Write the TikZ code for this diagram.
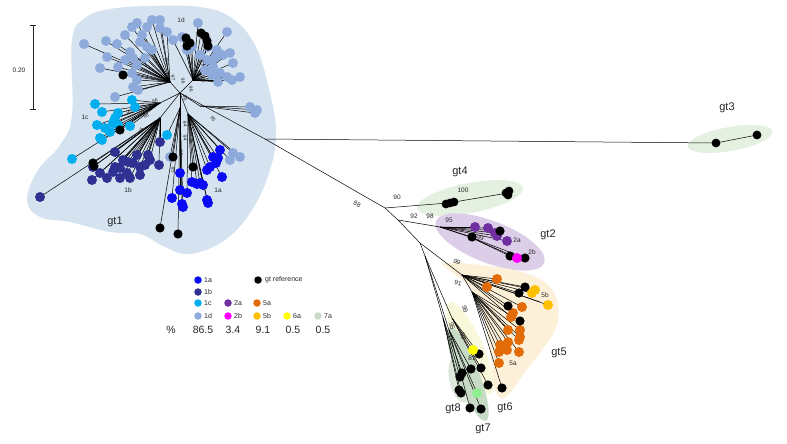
\documentclass[tikz,border=0pt]{standalone}
\usepackage{fontspec}
\setmainfont{Liberation Sans}
\usetikzlibrary{calc}
\definecolor{c1a}{HTML}{0A0AF5}
\definecolor{c1b}{HTML}{2E3192}
\definecolor{c1c}{HTML}{00AEEF}
\definecolor{c1d}{HTML}{8EAADB}
\definecolor{c2a}{HTML}{7030A0}
\definecolor{c2b}{HTML}{FF00FF}
\definecolor{c5a}{HTML}{E36C09}
\definecolor{c5b}{HTML}{FFC000}
\definecolor{c6a}{HTML}{FFFF00}
\definecolor{c7a}{HTML}{C8DCC8}
\definecolor{c7t}{HTML}{90EE90}
\definecolor{bgone}{HTML}{D5E3F1}
\definecolor{bgtwo}{HTML}{DCCDE8}
\definecolor{bggreen}{HTML}{E5F1E0}
\definecolor{bgfive}{HTML}{FDF0D9}
\definecolor{bgsix}{HTML}{FAF8DA}
\definecolor{bgseven}{HTML}{C6DAC6}
\definecolor{bgeight}{HTML}{DCE9D9}
\definecolor{txt}{HTML}{262626}
\tikzset{
  br/.style={line width=0.5pt, black},
  gtlab/.style={font=\fontsize{11}{13}\selectfont, text=txt, inner sep=0pt},
  bs/.style={font=\fontsize{5}{6}\selectfont, text=txt, inner sep=0pt},
  bsl/.style={font=\fontsize{6.5}{7}\selectfont, text=txt, inner sep=0pt},
  leg/.style={font=\fontsize{7}{8}\selectfont, text=txt, anchor=west, inner sep=0pt},
  legdot/.style={circle, inner sep=0pt, minimum size=7.5pt},
  pct/.style={font=\fontsize{10.5}{12}\selectfont, text=txt, inner sep=0pt},
}
\newcommand\mkgrp[2]{\foreach \x/\y/\h [count=\i] in #1 {\coordinate (#2\i) at (\x,\y); \draw[br] (\h) -- (#2\i);}}
\newcommand\dotgrp[4]{\foreach \x/\y/\h [count=\i] in #1 {\fill[#3] (#2\i) circle[radius=#4];}}
% gt1 groups: x/y/hub
\def\listD{152/20/H1d,137/23/H1d,132/27/H1d,147/27/H1d,160/28/H1d,167/32/H1d,198/23/H1dr,227/32/H1dr,84/44/H1d,106/41/H1d,117/44/H1d,107/57/H1d,100/68/H1d,118/67/H1d,130/52/H1d,133/58/H1d,137/65/H1d,132/73/H1d,137/80/H1d,133/87/H1d,138/90/H1d,115/97/H1d,147/47/H1d,152/50/H1d,140/42/H1d,145/58/H1d,173/40/H1dr,182/37/H1dr,187/50/H1dr,192/47/H1dr,208/47/H1dr,217/50/H1dr,223/55/H1dr,230/53/H1dr,233/63/H1dr,213/67/H1dr,220/73/H1dr,227/77/H1dr,240/77/H1dr,232/80/H1dr,200/55/H1dr,207/60/H1dr,212/75/H1dr,218/82/H1dr,205/70/H1dr,250/107/Hr,257/110/Hr,255/113/Hr,233/153/H1a,240/157/H1a,230/160/H1a,170/157/H1x,125/35/H1d,160/20/H1d,142/35/H1d,125/60/H1d,215/58/H1dr}
\def\listC{95/104/H1c,102/112/H1c,97/125/H1c,105/128/H1c,113/123/H1c,118/113/H1c,115/118/H1c,132/100/H1c,135/107/H1c,130/126/H1c,100/138/H1c,102/140/H1c,110/132/H1c,72/159/H1c,167/135/H1x,118/125/H1c}
\def\listB{40/197/H1b,93/167/H1b,100/173/H1b,92/180/H1b,107/178/H1b,115/152/H1b,115/167/H1b,120/168/H1b,127/173/H1b,133/163/H1b,140/167/H1b,148/155/H1b,140/175/H1b,150/160/H1b,160/142/H1b,159/165/H1b,130/178/H1b,120/178/H1b,113/172/H1b,128/162/H1b,137/155/H1b,123/160/H1b,145/165/H1b}
\def\listA{220/150/H1a,213/157/H1a,210/167/H1a,207/170/H1a,222/177/H1a,180/173/H1x,192/182/H1a,197/184/H1a,203/185/H1a,180/190/H1x,172/198/H1x,187/193/H1a,182/204/H1x,183/207/H1x,207/200/H1a,208/203/H1a,218/158/H1a,200/183/H1a,216/163/H1a}
\def\listK{186/38/H1dr,190/43/H1dr,187/46/H1dr,201/33/H1dr,205/36/H1dr,207/41/H1dr,208/46/H1dr,123/75/H1d,120/130/H1c,173/157/H1x,193/167/H1a,160/228/H1x,178/234/H1x,93/163/H1b,94/166/H1b}
\def\listTwoA{475/227/P4,488/228/P4,495/233/P4,497/236/P4,507/241/P4}
\def\listTwoK{500/231/P4,472/237/P4,510/256/P4b,525/258/P4b}
\def\listFiveA{497/279/P6,487/287/P6,522/307/P6,513/313/P6,511/317/P6,508/330/P6b,520/330/P6b,520/337/P6b,519/340/P6b,500/345/P6b,508/342/P6b,507/350/P6b,519/352/P6b,499/352/P6b,499/363/P6b}
\def\listFiveB{535/290/P6,532/293/P6,548/305/P6}
\def\listFiveK{525/287/P6,519/293/P6,508/306/P6,520/321/P6b,502/388/P6b}
\def\listLowK{479/354/Q6,471/369/Q7,481/368/Q6,462/373/Q8,460/377/Q8,459/390/Q8,461/393/Q8,488/385/Q6,470/408/Q7,481/409/Q7}
\begin{document}
\begin{tikzpicture}[x=1pt,y=-1pt]
\useasboundingbox (0,0) rectangle (787,444);
% ---------- background blobs
\fill[bgone] plot[smooth cycle, tension=0.65] coordinates {(72,40) (85,18) (110,9) (150,6) (200,7) (232,18) (255,45) (268,85) (276,130) (270,170) (252,210) (225,240) (190,254) (165,247) (140,234) (110,232) (70,222) (40,217) (27,200) (38,170) (60,145) (72,115)};
\fill[bggreen, rotate around={10:(730,139)}] (730,139) ellipse[x radius=43pt, y radius=12pt];
\fill[bggreen, rotate around={11:(470,198)}] (470,198) ellipse[x radius=54pt, y radius=15pt];
\fill[bgtwo, rotate around={-21:(490,242)}] (490,242) ellipse[x radius=58pt, y radius=21pt];
\fill[bgfive] plot[smooth cycle, tension=0.6] coordinates {(443,263) (480,265) (522,272) (548,285) (558,305) (556,328) (542,350) (525,372) (510,393) (500,398) (494,385) (490,350) (484,318) (470,288) (452,272)};
\fill[bgsix, rotate around={-66:(470,348)}] (470,348) ellipse[x radius=50pt, y radius=13pt];
\fill[bgeight, rotate around={-80:(461,378)}] (461,378) ellipse[x radius=25pt, y radius=12pt];
\fill[bgseven, rotate around={-69:(468,374)}] (468,374) ellipse[x radius=50pt, y radius=11pt];
% ---------- hubs
\coordinate (C) at (180,93);
\coordinate (H1d) at (170,82);
\coordinate (H1dr) at (193,80);
\coordinate (Hr) at (200,106);
\coordinate (H1c) at (160,103);
\coordinate (H1b) at (160,118);
\coordinate (H1a) at (188,114);
\coordinate (H1x) at (180,108);
\coordinate (P1) at (265,139);
\coordinate (P2) at (385,208);
\coordinate (P3) at (398,220);
\coordinate (P4) at (440,227);
\coordinate (P4b) at (470,237);
\coordinate (P5) at (420,243);
\coordinate (P6) at (462,275);
\coordinate (P6b) at (472,292);
\coordinate (P7) at (425,256);
\coordinate (Q8) at (443,318);
\coordinate (Q6) at (452,318);
\coordinate (Q7) at (449,330);
\coordinate (G3a) at (716,143);
\coordinate (G3b) at (757,135);
\coordinate (G4h) at (448,203);
\coordinate (G4t) at (508,193);
\coordinate (T5b) at (540,302);
% ---------- branches
\draw[br] (C) -- (P1) -- (P2) -- (P3) -- (P5) -- (P7);
\draw[br] (P1) -- (G3a) -- (G3b);
\draw[br] (P2) -- (G4h) -- (G4t);
\draw[br] (P3) -- (P4) -- (P4b);
\draw[br] (P5) -- (P6) -- (P6b);
\draw[br] (P6) -- (T5b);
\draw[br] (P7) -- (Q8);
\draw[br] (P7) -- (Q6);
\draw[br] (P7) -- (Q7);
\foreach \h in {H1d,H1dr,Hr,H1c,H1b,H1a,H1x} {\draw[br] (C) -- (\h);}
\mkgrp{\listD}{D}
\mkgrp{\listC}{Cc}
\mkgrp{\listB}{B}
\mkgrp{\listA}{A}
\mkgrp{\listK}{K}
\mkgrp{\listTwoA}{TA}
\mkgrp{\listTwoK}{TK}
\mkgrp{\listFiveA}{FA}
\mkgrp{\listFiveB}{FB}
\mkgrp{\listFiveK}{FK}
\mkgrp{\listLowK}{LK}
\coordinate (M2b) at (517,258);
\coordinate (M6a) at (473,350);
\coordinate (M7a) at (477,393);
\draw[br] (P4b) -- (M2b);
\draw[br] (Q6) -- (M6a);
\draw[br] (Q7) -- (M7a);
% ---------- dots
\dotgrp{\listD}{D}{c1d}{5pt}
\dotgrp{\listC}{Cc}{c1c}{5pt}
\dotgrp{\listB}{B}{c1b}{5pt}
\dotgrp{\listA}{A}{c1a}{5pt}
\dotgrp{\listK}{K}{black}{4.6pt}
\dotgrp{\listTwoA}{TA}{c2a}{5pt}
\dotgrp{\listTwoK}{TK}{black}{4.6pt}
\dotgrp{\listFiveA}{FA}{c5a}{5pt}
\dotgrp{\listFiveB}{FB}{c5b}{5pt}
\dotgrp{\listFiveK}{FK}{black}{4.6pt}
\dotgrp{\listLowK}{LK}{black}{4.6pt}
\fill[c2b] (M2b) circle[radius=5pt];
\fill[c6a] (M6a) circle[radius=5pt];
\fill[c7t] (M7a) circle[radius=5pt];
\foreach \n/\x/\y in {g3a/716/143,g3b/757/135,g4a/446/204,g4b/450/203,g4c/454/202,g4d/506/193,g4e/509/191,g4f/508/195} {
  \coordinate (\n) at (\x,\y);
  \fill[black] (\n) circle[radius=4.4pt];
}
% ---------- scale bar
\coordinate (sbt) at (33,25);
\coordinate (sbb) at (33,109);
\draw[line width=0.7pt, txt] (sbt) -- (sbb);
\draw[line width=0.7pt, txt] ($(sbt)+(-3,0)$) -- ($(sbt)+(3,0)$);
\draw[line width=0.7pt, txt] ($(sbb)+(-3,0)$) -- ($(sbb)+(3,0)$);
\node[bsl] (sbl) at (19,70) {0.20};
% ---------- bootstrap labels gt1
\foreach \x/\y/\t/\a [count=\i] in {167/62/100/-80,173/78/97/-75,183/81/96/-80,202/63/93/-80,203/80/90/100,191/89/96/-80,185/98/96/-80,129/112/95/10,146/116/98/20,141/131/96/60,213/119/95/-60,185/124/94/-80,185/138/94/-80,181/153/96/-80,173/170/95/-80,155/101/96/20} {
  \node[bs, rotate=\a] (bs\i) at (\x,\y) {\t};
}
% ---------- other labels
\node[bsl] (l1d) at (181,20) {1d};
\node[bsl] (l1c) at (85,117) {1c};
\node[bsl] (l1b) at (128,190) {1b};
\node[bsl] (l1a) at (218,190) {1a};
\node[bsl, rotate=-25] (b88) at (357,204) {88};
\node[bsl] (b90) at (397,197) {90};
\node[bsl] (b92) at (414,216) {92};
\node[bsl] (b98) at (430,216) {98};
\node[bsl] (b95) at (449,220) {95};
\node[bsl] (b100) at (463,190) {100};
\node[bsl] (b99a) at (480,238) {99};
\node[bsl] (l2a) at (517,240) {2a};
\node[bsl] (l2b) at (532,252) {2b};
\node[bsl, rotate=-30] (b99b) at (457,262) {99};
\node[bsl, rotate=-10] (b91) at (458,283) {91};
\node[bsl] (l5b) at (545,295) {5b};
\node[bsl] (l5a) at (513,363) {5a};
\node[bsl, rotate=-75] (b99c) at (465,309) {99};
\node[bsl, rotate=-75] (b95b) at (452,326) {95};
\node[bsl, rotate=-75] (b99d) at (463,336) {99};
\node[bsl] (b81) at (472,358) {81};
\node[gtlab] (gt1) at (115,222) {gt1};
\node[gtlab] (gt2) at (548,235) {gt2};
\node[gtlab] (gt3) at (727,108) {gt3};
\node[gtlab] (gt4) at (460,172) {gt4};
\node[gtlab] (gt5) at (559,353) {gt5};
\node[gtlab] (gt6) at (505,408) {gt6};
\node[gtlab] (gt7) at (483,429) {gt7};
\node[gtlab] (gt8) at (453,409) {gt8};
% ---------- legend
\foreach \n/\c/\x/\y in {1a/c1a/198/280,1b/c1b/198/292,1c/c1c/198/303,1d/c1d/198/316,2a/c2a/228/303,2b/c2b/228/316,5a/c5a/257/303,5b/c5b/257/316,6a/c6a/287/316,7a/c7a/318/316} {
  \node[legdot, fill=\c] (ld\n) at (\x,\y) {};
  \node[leg] (lt\n) at ($(ld\n)+(6,0)$) {\n};
}
\node[legdot, fill=black] (ldref) at (258,280) {};
\node[leg] (ltref) at ($(ldref)+(7,0)$) {gt reference};
\node[pct] (pc) at (171,330) {\%};
\node[pct] (p1) at (203,330) {86.5};
\node[pct] (p2) at (233,330) {3.4};
\node[pct] (p5) at (263,330) {9.1};
\node[pct] (p6) at (293,330) {0.5};
\node[pct] (p7) at (323,330) {0.5};
\end{tikzpicture}
\end{document}
